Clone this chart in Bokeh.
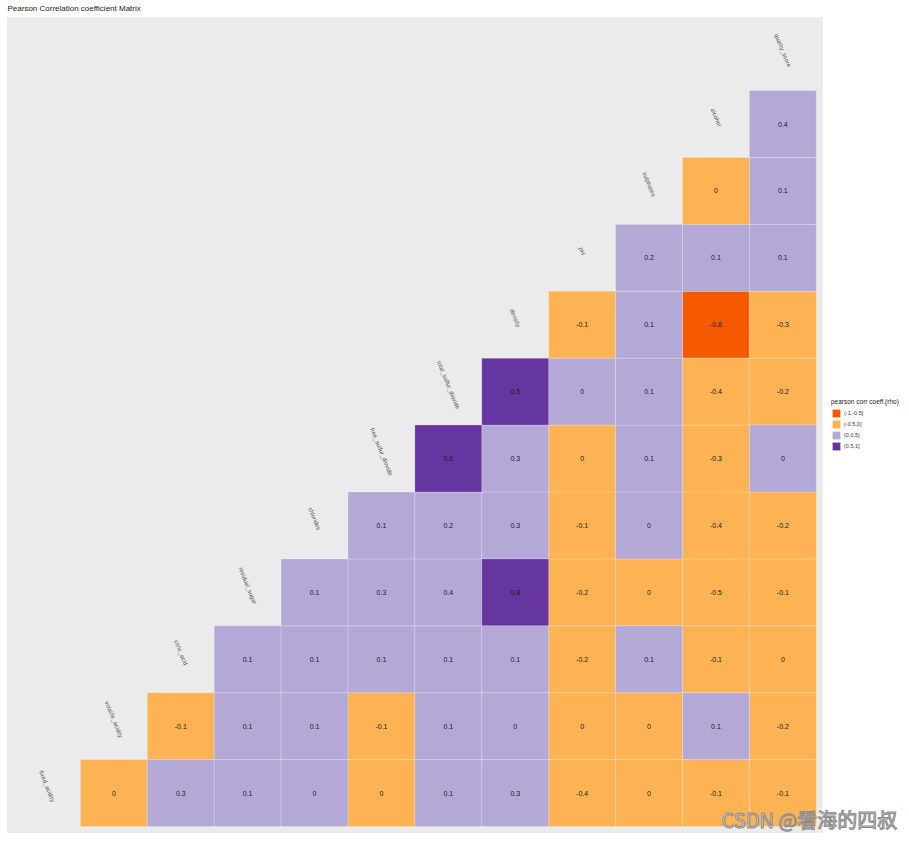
import math
from bokeh.plotting import figure
from bokeh.models import ColumnDataSource, Range1d, Legend, LegendItem, Label
from bokeh.core.properties import value
from bokeh.embed import file_html
from bokeh.resources import INLINE

variables = ["fixed_acidity", "volatile_acidity", "citric_acid", "residual_sugar",
             "chlorides", "free_sulfur_dioxide", "total_sulfur_dioxide", "density",
             "pH", "sulphates", "alcohol", "quality_score"]

# displayed (rounded) coefficient, row i holds columns i+1 .. 11
rho_rows = [
    [0, 0.3, 0.1, 0, 0, 0.1, 0.3, -0.4, 0, -0.1, -0.1],
    [-0.1, 0.1, 0.1, -0.1, 0.1, 0, 0, 0, 0.1, -0.2],
    [0.1, 0.1, 0.1, 0.1, 0.1, -0.2, 0.1, -0.1, 0],
    [0.1, 0.3, 0.4, 0.8, -0.2, 0, -0.5, -0.1],
    [0.1, 0.2, 0.3, -0.1, 0, -0.4, -0.2],
    [0.6, 0.3, 0, 0.1, -0.3, 0],
    [0.5, 0, 0.1, -0.4, -0.2],
    [-0.1, 0.1, -0.8, -0.3],
    [0.2, 0.1, 0.1],
    [0, 0.1],
    [0.4],
]
# bin of the unrounded coefficient (index into bin_labels)
bin_rows = [
    [1, 2, 2, 2, 1, 2, 2, 1, 1, 1, 1],
    [1, 2, 2, 1, 2, 2, 1, 1, 2, 1],
    [2, 2, 2, 2, 2, 1, 2, 1, 1],
    [2, 2, 2, 3, 1, 1, 1, 1],
    [2, 2, 2, 1, 2, 1, 1],
    [3, 2, 1, 2, 1, 2],
    [3, 2, 2, 1, 1],
    [1, 2, 0, 1],
    [2, 2, 2],
    [1, 2],
    [2],
]
bin_labels = ["(-1,-0.5]", "(-0.5,0]", "(0,0.5]", "(0.5,1]"]
bin_colors = ["#F55A00", "#FDB353", "#B4A9D6", "#6536A0"]

n = len(variables)
W, H = 909, 841
scale = 66.9                      # px per cell
x0 = -0.5 - 13 / scale            # left edge of canvas in data units
y0 = -0.5 - 15 / scale            # bottom edge of canvas in data units
x1 = x0 + W / scale
y1 = y0 + H / scale
pad = 6.5 / scale

p = figure(width=W, height=H, output_backend="svg", toolbar_location=None,
           x_range=Range1d(x0, x1), y_range=Range1d(y0, y1),
           min_border_left=0, min_border_bottom=0, min_border_top=0, min_border_right=0)
p.background_fill_color = "white"
p.border_fill_color = "white"
p.outline_line_color = None
p.xaxis.visible = False
p.yaxis.visible = False
p.xgrid.visible = False
p.ygrid.visible = False

# grey panel background
p.quad(left=[-0.5 - pad], right=[n - 0.5 + pad], bottom=[-0.5 - pad], top=[n - 0.5 + pad],
       fill_color="#EBEBEB", line_color=None)

tx, ty, tval, tbin = [], [], [], []
for i, row in enumerate(rho_rows):
    for k, v in enumerate(row):
        tx.append(i + 1 + k)
        ty.append(i)
        tval.append(v)
        tbin.append(bin_rows[i][k])

items = []
for b, (lab, col) in enumerate(zip(bin_labels, bin_colors)):
    idx = [m for m in range(len(tx)) if tbin[m] == b]
    src = ColumnDataSource(dict(x=[tx[m] for m in idx], y=[ty[m] for m in idx]))
    r = p.rect(x="x", y="y", width=1, height=1, source=src, fill_color=col,
               line_color="white", line_alpha=0.35, line_width=0.6)
    items.append(LegendItem(label=lab, renderers=[r]))

def fmt(v):
    s = f"{v:g}"
    return "0" if s in ("0", "-0") else s

lsrc = ColumnDataSource(dict(x=tx, y=ty, t=[fmt(v) for v in tval]))
p.text(x="x", y="y", text="t", source=lsrc, text_align="center", text_baseline="middle",
       text_font=value("Liberation Sans"), text_font_size="7px", text_color="#1a1a1a")

dsrc = ColumnDataSource(dict(x=list(range(n)), y=[k + 0.1 for k in range(n)], t=variables))
p.text(x="x", y="y", text="t", source=dsrc, angle=-math.radians(68),
       text_align="center", text_baseline="middle",
       text_font=value("Liberation Sans"), text_font_size="6px", text_color="#4d4d4d")

title = Label(x=x0 + 7 / scale, y=y1 - 8 / scale, text="Pearson Correlation coefficient Matrix",
              text_font="Liberation Sans", text_font_size="8px", text_color="#222222",
              text_baseline="middle")
p.add_layout(title)

legend = Legend(items=items, title="pearson corr coeff.(rho)", location=(831, 390))
legend.title_text_font = "Liberation Sans"
legend.title_text_font_size = "6.5px"
legend.title_text_font_style = "normal"
legend.title_text_color = "#222222"
legend.title_standoff = 3
legend.label_text_font = "Liberation Sans"
legend.label_text_font_size = "5.5px"
legend.label_text_color = "#333333"
legend.glyph_width = 10
legend.glyph_height = 10
legend.spacing = 1
legend.label_height = 10
legend.label_standoff = 3
legend.padding = 3
legend.margin = 0
legend.border_line_color = None
legend.background_fill_alpha = 0
p.add_layout(legend)

wm = Label(x=x0 + 721 / scale, y=y0 + 8 / scale, text="CSDN @看海的四叔",
           text_font="Noto Sans CJK SC", text_font_size="20px", text_color="#dcdcdc",
           text_outline_color="#8a8a8a", text_baseline="bottom")
p.add_layout(wm)

open("out.html", "w").write(file_html(p, INLINE))
